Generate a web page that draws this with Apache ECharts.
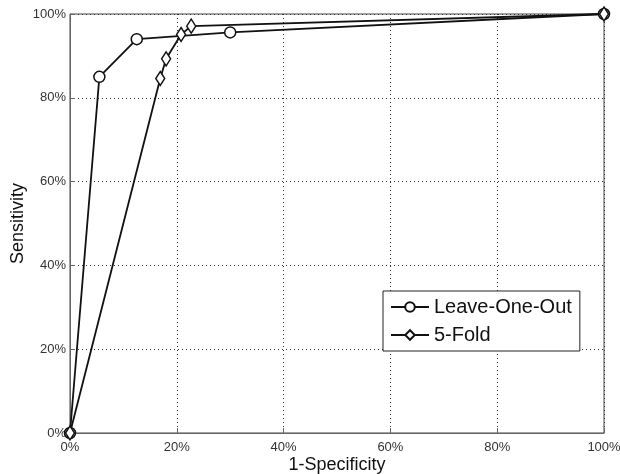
<!DOCTYPE html>
<html>
<head>
<meta charset="utf-8">
<script src="https://cdn.jsdelivr.net/npm/echarts@6/dist/echarts.min.js"></script>
<style>
  html, body { margin: 0; padding: 0; background: #fff; }
  #chart { width: 620px; height: 474px; }
</style>
</head>
<body>
<div id="chart"></div>
<script>
// ROC points, [1-specificity %, sensitivity %]
const leaveOneOut = [[0, 0], [5.5, 85], [12.5, 94], [30, 95.6], [100, 100]]
const fiveFold = [[0, 0], [16.9, 84.6], [18, 89.3], [20.8, 95.1], [22.7, 97.1], [100, 100]]
const seriesNames = ['Leave-One-Out', '5-Fold']

const chart = echarts.init(document.getElementById('chart'))

const axisCommon = {
  type: 'value',
  min: 0,
  max: 100,
  interval: 20,
  nameLocation: 'middle',
  nameMoveOverlap: false,
  nameTextStyle: { color: '#111', fontSize: 18, fontFamily: 'Liberation Sans' },
  axisLine: { show: true, lineStyle: { color: '#666', width: 1 } },
  axisTick: { show: true, inside: true, length: 5, lineStyle: { color: '#666' } },
  axisLabel: { color: '#333', fontSize: 13, fontFamily: 'Liberation Sans', formatter: '{value}%' },
  splitLine: { show: true, lineStyle: { color: '#333', type: [1, 3], width: 1 } }
}

const option = {
  backgroundColor: '#fff',
  animation: false,
  grid: {
    left: 70, right: 16, top: 14, bottom: 41,
    outerBoundsMode: 'none',
    show: true, borderColor: '#444', borderWidth: 1
  },
  xAxis: Object.assign({}, axisCommon, { name: '1-Specificity', nameGap: 23 }),
  yAxis: Object.assign({}, axisCommon, {
    name: 'Sensitivity',
    nameGap: 43,
    axisLabel: Object.assign({}, axisCommon.axisLabel, { margin: 4 })
  }),
  legend: {
    data: seriesNames,
    orient: 'vertical',
    left: 383,
    top: 291,
    padding: [6, 8, 6, 7],
    itemGap: 8,
    itemWidth: 38,
    itemHeight: 12,
    borderColor: '#222',
    borderWidth: 1,
    backgroundColor: '#fff',
    textStyle: { color: '#111', fontSize: 20, fontFamily: 'Liberation Sans' }
  },
  series: [
    {
      name: seriesNames[0],
      type: 'line',
      data: leaveOneOut,
      symbol: 'circle',
      symbolSize: 11,
      itemStyle: { color: '#fff', borderColor: '#111', borderWidth: 1.5 },
      lineStyle: { color: '#111', width: 1.8 }
    },
    {
      name: seriesNames[1],
      type: 'line',
      data: fiveFold,
      symbol: 'diamond',
      symbolSize: [9, 14],
      itemStyle: { color: '#fff', borderColor: '#111', borderWidth: 1.5 },
      lineStyle: { color: '#111', width: 1.8 }
    }
  ]
}

chart.setOption(option)
</script>
</body>
</html>
